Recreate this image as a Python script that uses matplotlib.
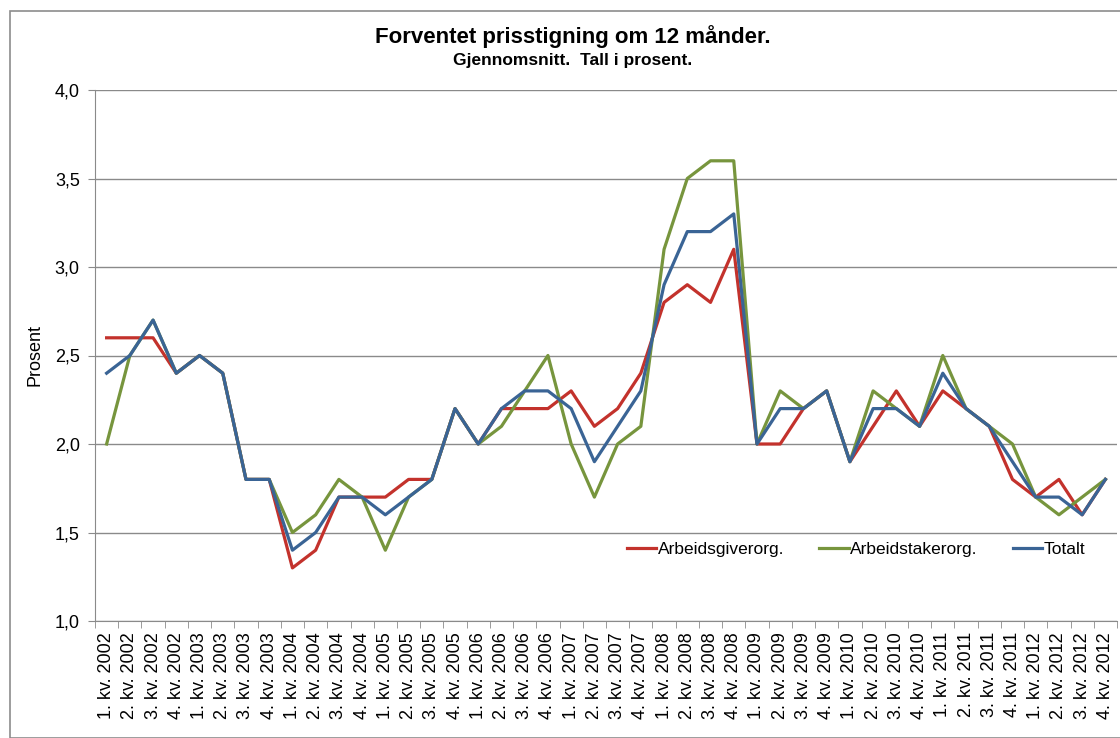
import matplotlib
matplotlib.use("Agg")
import matplotlib.pyplot as plt
from matplotlib.patches import Rectangle
from matplotlib.ticker import FixedLocator, FuncFormatter

# ======================
# DATA
# ======================
years = list(range(2002, 2013))
quarters = [1, 2, 3, 4]
labels = [f"{q}. kv. {y}" for y in years for q in quarters]

arbeidsgiver = [2.6, 2.6, 2.6, 2.4, 2.5, 2.4, 1.8, 1.8,
                1.3, 1.4, 1.7, 1.7, 1.7, 1.8, 1.8, 2.2,
                2.0, 2.2, 2.2, 2.2, 2.3, 2.1, 2.2, 2.4,
                2.8, 2.9, 2.8, 3.1, 2.0, 2.0, 2.2, 2.3,
                1.9, 2.1, 2.3, 2.1, 2.3, 2.2, 2.1, 1.8,
                1.7, 1.8, 1.6, 1.8]
arbeidstaker = [2.0, 2.5, 2.7, 2.4, 2.5, 2.4, 1.8, 1.8,
                1.5, 1.6, 1.8, 1.7, 1.4, 1.7, 1.8, 2.2,
                2.0, 2.1, 2.3, 2.5, 2.0, 1.7, 2.0, 2.1,
                3.1, 3.5, 3.6, 3.6, 2.0, 2.3, 2.2, 2.3,
                1.9, 2.3, 2.2, 2.1, 2.5, 2.2, 2.1, 2.0,
                1.7, 1.6, 1.7, 1.8]
totalt = [2.4, 2.5, 2.7, 2.4, 2.5, 2.4, 1.8, 1.8,
          1.4, 1.5, 1.7, 1.7, 1.6, 1.7, 1.8, 2.2,
          2.0, 2.2, 2.3, 2.3, 2.2, 1.9, 2.1, 2.3,
          2.9, 3.2, 3.2, 3.3, 2.0, 2.2, 2.2, 2.3,
          1.9, 2.2, 2.2, 2.1, 2.4, 2.2, 2.1, 1.9,
          1.7, 1.7, 1.6, 1.8]

# ======================
# FIGURE
# ======================
plt.rcParams["font.family"] = ["Liberation Sans", "DejaVu Sans"]

fig = plt.figure(figsize=(11.2, 7.38), dpi=100)
ax = fig.add_axes([95 / 1120, 1 - 621 / 738, 1022 / 1120, 531 / 738])

# outer chart border (Excel style)
fig.patches.append(Rectangle((10 / 1120, 0), 1.2, 1 - 11 / 738,
                             transform=fig.transFigure, fill=False,
                             edgecolor="#8c8c8c", linewidth=1.2))

x = range(len(labels))
ax.plot(x, arbeidsgiver, color="#C3322C", lw=2.3, label="Arbeidsgiverorg.")
ax.plot(x, arbeidstaker, color="#77953D", lw=2.3, label="Arbeidstakerorg.")
ax.plot(x, totalt, color="#3A6495", lw=2.3, label="Totalt")

ax.set_xlim(-0.5, len(labels) - 0.5)
ax.set_ylim(1.0, 4.0)
ax.set_yticks([1.0, 1.5, 2.0, 2.5, 3.0, 3.5, 4.0])
ax.yaxis.set_major_formatter(FuncFormatter(lambda v, p: f"{v:.1f}".replace(".", ",")))
ax.grid(axis="y", color="#8a8a8a", lw=1.0)
ax.set_axisbelow(True)

# category ticks between points, labels at points
ax.set_xticks(list(x))
ax.set_xticklabels(labels, rotation=90, fontsize=13)
ax.xaxis.set_minor_locator(FixedLocator([i - 0.5 for i in range(len(labels) + 1)]))
ax.tick_params(axis="x", which="major", length=0, pad=8)
ax.tick_params(axis="x", which="minor", length=5, color="#8a8a8a")
ax.tick_params(axis="y", length=5, color="#8a8a8a", labelsize=13, pad=6)

for s in ["top", "right"]:
    ax.spines[s].set_visible(False)
for s in ["left", "bottom"]:
    ax.spines[s].set_color("#8a8a8a")

ax.set_ylabel("Prosent", fontsize=13, labelpad=8)

fig.text(0.511, 1 - 37 / 738, "Forventet prisstigning om 12 månder.",
         ha="center", va="center", fontsize=16, fontweight="bold")
fig.text(0.511, 1 - 60 / 738, "Gjennomsnitt.  Tall i prosent.",
         ha="center", va="center", fontsize=12.5, fontweight="bold")

ax.legend(loc="center left", bbox_to_anchor=(0.505, 0.134), ncol=3,
          frameon=False, fontsize=12.5, handlelength=1.7, handletextpad=0.1,
          columnspacing=2.0)

fig.savefig("out.png", dpi=100)
